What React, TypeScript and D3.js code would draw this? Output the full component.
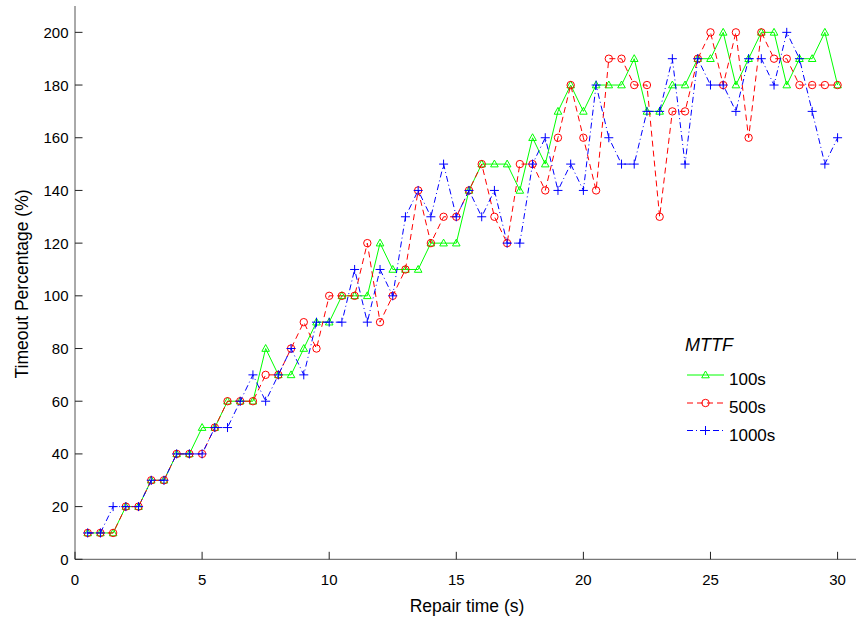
import React from "react";
import * as d3 from "d3";

const repairTimes = [
  0.5, 1, 1.5, 2, 2.5, 3, 3.5, 4, 4.5, 5,
  5.5, 6, 6.5, 7, 7.5, 8, 8.5, 9, 9.5, 10,
  10.5, 11, 11.5, 12, 12.5, 13, 13.5, 14, 14.5, 15,
  15.5, 16, 16.5, 17, 17.5, 18, 18.5, 19, 19.5, 20,
  20.5, 21, 21.5, 22, 22.5, 23, 23.5, 24, 24.5, 25,
  25.5, 26, 26.5, 27, 27.5, 28, 28.5, 29, 29.5, 30,
];

const mttf100 = [
  10, 10, 10, 20, 20, 30, 30, 40, 40, 50,
  50, 60, 60, 60, 80, 70, 70, 80, 90, 90,
  100, 100, 100, 120, 110, 110, 110, 120, 120, 120,
  140, 150, 150, 150, 140, 160, 150, 170, 180, 170,
  180, 180, 180, 190, 170, 170, 180, 180, 190, 190,
  200, 180, 190, 200, 200, 180, 190, 190, 200, 180,
];

const mttf500 = [
  10, 10, 10, 20, 20, 30, 30, 40, 40, 40,
  50, 60, 60, 60, 70, 70, 80, 90, 80, 100,
  100, 100, 120, 90, 100, 110, 140, 120, 130, 130,
  140, 150, 130, 120, 150, 150, 140, 160, 180, 160,
  140, 190, 190, 180, 180, 130, 170, 170, 190, 200,
  180, 200, 160, 200, 190, 190, 180, 180, 180, 180,
];

const mttf1000 = [
  10, 10, 20, 20, 20, 30, 30, 40, 40, 40,
  50, 50, 60, 70, 60, 70, 80, 70, 90, 90,
  90, 110, 90, 110, 100, 130, 140, 130, 150, 130,
  140, 130, 140, 120, 120, 150, 160, 140, 150, 140,
  180, 160, 150, 150, 170, 170, 190, 150, 190, 180,
  180, 170, 190, 190, 180, 200, 190, 170, 150, 160,
];

const xTicks = [0, 5, 10, 15, 20, 25, 30];
const yTicks = [0, 20, 40, 60, 80, 100, 120, 140, 160, 180, 200];
const seriesNames = ["100s", "500s", "1000s"];

const W = 856;
const H = 619;
const FONT = "'Liberation Sans', Arial, Helvetica, sans-serif";

const x = d3.scaleLinear().domain([0, 31]).range([75, 863]);
const y = d3.scaleLinear().domain([0, 210]).range([559.3, 6]);

type Marker = "triangle" | "circle" | "plus";

const series = [
  { name: seriesNames[0], values: mttf100, color: "#00ff00", dash: "", marker: "triangle" as Marker },
  { name: seriesNames[1], values: mttf500, color: "#ff0000", dash: "6,4", marker: "circle" as Marker },
  { name: seriesNames[2], values: mttf1000, color: "#0000ff", dash: "6,3,1,3", marker: "plus" as Marker },
];

function MarkerShape({ kind, cx, cy, color }: { kind: Marker; cx: number; cy: number; color: string }) {
  if (kind === "triangle") {
    const p = d3.path();
    p.moveTo(cx, cy - 4);
    p.lineTo(cx + 3.8, cy + 2.8);
    p.lineTo(cx - 3.8, cy + 2.8);
    p.closePath();
    return <path d={p.toString()} fill="none" stroke={color} strokeWidth={1} />;
  }
  if (kind === "circle") {
    return <circle cx={cx} cy={cy} r={3.7} fill="none" stroke={color} strokeWidth={1} />;
  }
  return (
    <g stroke={color} strokeWidth={1}>
      <line x1={cx - 4.5} x2={cx + 4.5} y1={cy} y2={cy} />
      <line x1={cx} x2={cx} y1={cy - 4.5} y2={cy + 4.5} />
    </g>
  );
}

export default function App() {
  const line = d3
    .line<number>()
    .x((_, i) => x(repairTimes[i]))
    .y((d) => y(d));

  const legendX0 = 687;
  const legendX1 = 724;
  const legendYs = [375, 403, 430.5];

  return (
    <svg
      width={W}
      height={H}
      style={{ position: "absolute", left: 0, top: 0, background: "#fff" }}
      fontFamily={FONT}
    >
      <rect x={0} y={0} width={W} height={H} fill="#fff" />
      {/* axes */}
      <line x1={x(0)} x2={W} y1={y(0)} y2={y(0)} stroke="#555" strokeWidth={1} />
      <line x1={x(0)} x2={x(0)} y1={y(0)} y2={y(210)} stroke="#555" strokeWidth={1} />
      {xTicks.map((t) => (
        <g key={"xt" + t}>
          <line x1={x(t)} x2={x(t)} y1={y(0)} y2={y(0) - 7.5} stroke="#222" strokeWidth={1} />
          <text x={x(t)} y={584.5} textAnchor="middle" fontSize={15} fill="#000">
            {t}
          </text>
        </g>
      ))}
      {yTicks.map((t) => (
        <g key={"yt" + t}>
          <line x1={x(0)} x2={x(0) + 7.5} y1={y(t)} y2={y(t)} stroke="#222" strokeWidth={1} />
          <text x={68.5} y={y(t) + 5.5} textAnchor="end" fontSize={15} fill="#000">
            {t}
          </text>
        </g>
      ))}
      <text x={467} y={612} textAnchor="middle" fontSize={17.5} fill="#000">
        Repair time (s)
      </text>
      <text
        transform={`translate(28,284) rotate(-90)`}
        textAnchor="middle"
        fontSize={17.5}
        fill="#000"
      >
        Timeout Percentage (%)
      </text>

      {/* series */}
      {series.map((s) => (
        <g key={s.name}>
          <path
            d={line(s.values) || ""}
            fill="none"
            stroke={s.color}
            strokeWidth={1}
            strokeDasharray={s.dash || undefined}
          />
          {s.values.map((v, i) => (
            <MarkerShape key={i} kind={s.marker} cx={x(repairTimes[i])} cy={y(v)} color={s.color} />
          ))}
        </g>
      ))}

      {/* legend */}
      <text x={685} y={351} fontSize={18} fontStyle="italic" fill="#000">
        MTTF
      </text>
      {series.map((s, i) => (
        <g key={"lg" + s.name}>
          <line
            x1={legendX0}
            x2={legendX1}
            y1={legendYs[i]}
            y2={legendYs[i]}
            stroke={s.color}
            strokeWidth={1}
            strokeDasharray={s.dash || undefined}
          />
          <MarkerShape kind={s.marker} cx={(legendX0 + legendX1) / 2} cy={legendYs[i]} color={s.color} />
          <text x={729} y={legendYs[i] + 10} fontSize={17} fill="#000">
            {s.name}
          </text>
        </g>
      ))}
    </svg>
  );
}
